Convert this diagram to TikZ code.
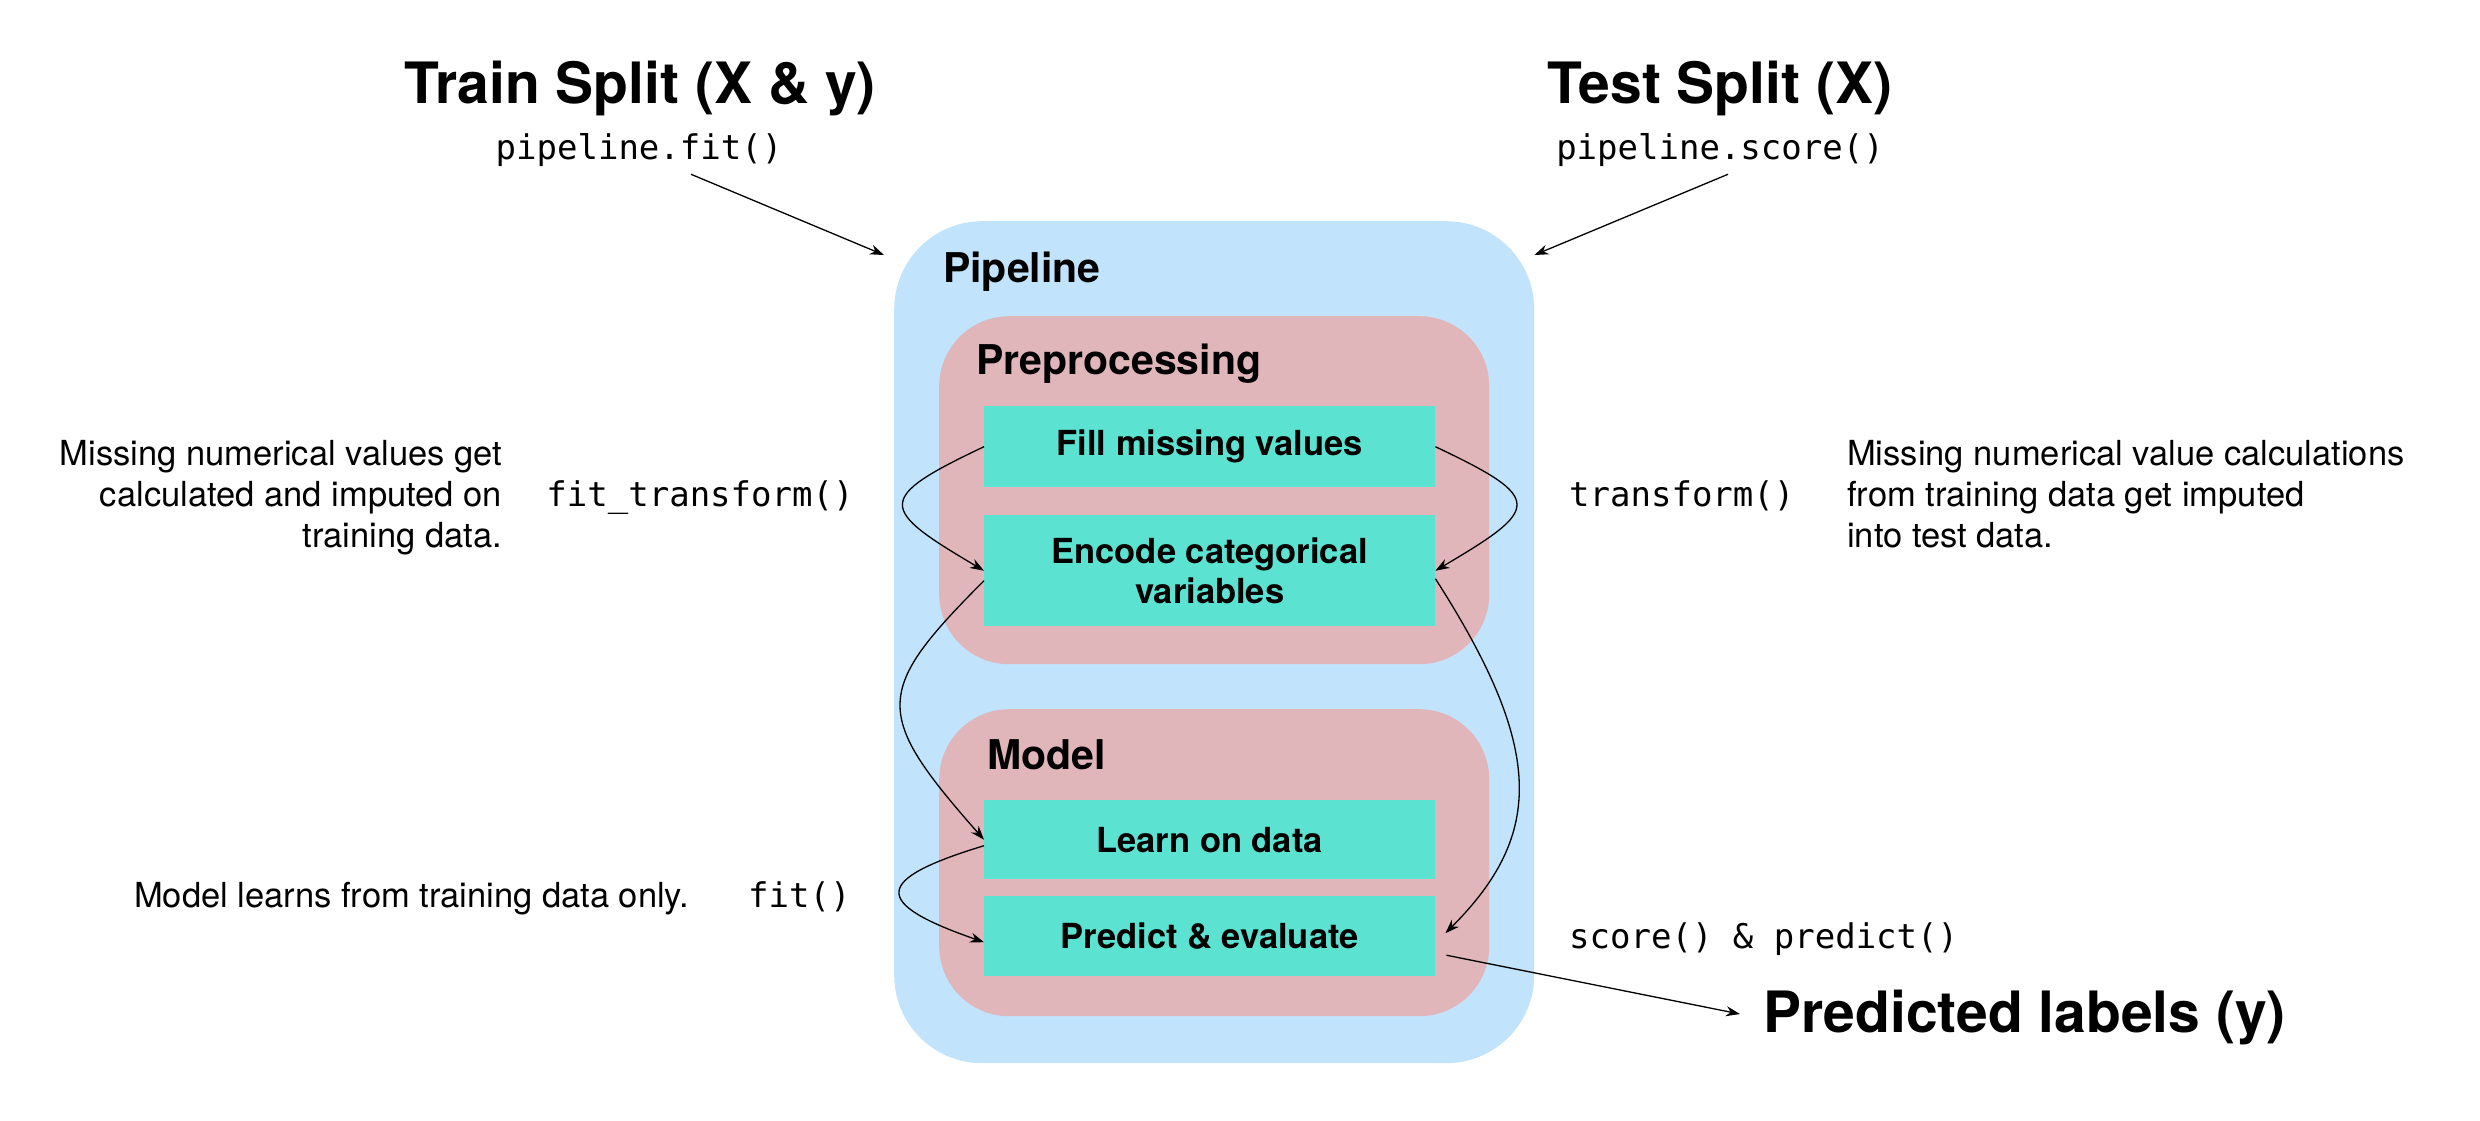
\documentclass[tikz,border=0pt]{standalone}
\usepackage{fontspec}
\setmainfont{TeX Gyre Heros}
\setmonofont{DejaVu Sans Mono}
\usetikzlibrary{arrows.meta,calc}
\definecolor{pipeblue}{RGB}{193,227,251}
\definecolor{stagepink}{RGB}{224,182,186}
\definecolor{stepteal}{RGB}{91,226,208}
\begin{document}
\begin{tikzpicture}[x=1pt,y=-1pt,
  arr/.style={-{Stealth[length=14pt,width=10pt]}, line width=1.3pt},
  container/.style={rectangle, anchor=north west, inner sep=0pt},
  stepbox/.style={rectangle, fill=stepteal, anchor=north west, inner sep=0pt, minimum width=451pt, align=center, font=\fontsize{34.5}{40}\selectfont\bfseries},
  title/.style={font=\fontsize{57}{68}\selectfont\bfseries, inner sep=0pt, anchor=base},
  heading/.style={font=\fontsize{41}{49}\selectfont\bfseries, inner sep=0pt, anchor=base west},
  code/.style={font=\fontsize{34}{41}\selectfont\ttfamily, inner sep=0pt},
  desc/.style={font=\fontsize{34.5}{41}\selectfont, inner sep=0pt},
]
\useasboundingbox (0,0) rectangle (2480,1120);

% containers
\node[container, fill=pipeblue, rounded corners=88pt, minimum width=640pt, minimum height=842pt] (pipeline) at (894,221) {};
\node[container, fill=stagepink, rounded corners=70pt, minimum width=550pt, minimum height=348pt] (prep) at (939,316) {};
\node[container, fill=stagepink, rounded corners=70pt, minimum width=550pt, minimum height=307pt] (model) at (939,709) {};

% headings
\node[heading] (pipelabel) at (943,282) {Pipeline};
\node[heading] (preplabel) at (976,374) {Preprocessing};
\node[heading] (modellabel) at (987,769) {Model};

% steps
\node[stepbox, minimum height=81pt] (fillnode) at (984,406) {Fill missing values};
\node[stepbox, minimum height=111pt] (encode) at (984,515) {Encode categorical\\variables};
\node[stepbox, minimum height=79pt] (learn) at (984,800) {Learn on data};
\node[stepbox, minimum height=80pt] (predict) at (984,896) {Predict \& evaluate};

% titles
\node[title] (train) at (640,103) {Train Split (X \& y)};
\node[title] (test) at (1720,103) {Test Split (X)};
\node[code, anchor=base] (fitcall) at (639,159) {pipeline.fit()};
\node[code, anchor=base] (scorecall) at (1720,159) {pipeline.score()};

% side texts
\node[desc, align=right, anchor=north east] (leftdesc) at (502,440) {Missing numerical values get\\calculated and imputed on\\training data.};
\node[code, anchor=base] (fittransform) at (700,506) {fit\_transform()};
\node[code, anchor=base west] (transform) at (1569,506) {transform()};
\node[desc, align=left, anchor=north west] (rightdesc) at (1847,440) {Missing numerical value calculations\\from training data get imputed\\into test data.};
\node[desc, anchor=base west] (modeldesc) at (134,907) {Model learns from training data only.};
\node[code, anchor=base west] (fitonly) at (748,907) {fit()};
\node[code, anchor=base west] (scorepredict) at (1569,948) {score() \& predict()};
\node[title, anchor=base west] (predlabel) at (1763,1032) {Predicted labels (y)};

% connectors
\draw[arr] ($(fitcall.south)+(52,8)$) -- ($(pipeline.north west)+(-10,34)$);
\draw[arr] ($(scorecall.south)+(8,8)$) -- ($(pipeline.north east)+(0,34)$);
\draw[arr] (fillnode.west) .. controls +(-110,52) and +(-105,-62) .. (encode.west);
\draw[arr] (fillnode.east) .. controls +(110,52) and +(105,-62) .. (encode.east);
\draw[arr] ($(encode.west)+(0,10)$) .. controls +(-111,111) and +(-111,-126) .. (learn.west);
\draw[arr] ($(encode.east)+(0,8)$) .. controls +(109,170) and +(99,-99) .. ($(predict.east)+(10,-3)$);
\draw[arr] ($(learn.west)+(0,6)$) .. controls +(-112,34) and +(-112,-39) .. ($(predict.west)+(0,6)$);
\draw[arr] ($(predict.east)+(11,19)$) -- ($(predlabel.west)+(-23,-3)$);
\end{tikzpicture}
\end{document}
